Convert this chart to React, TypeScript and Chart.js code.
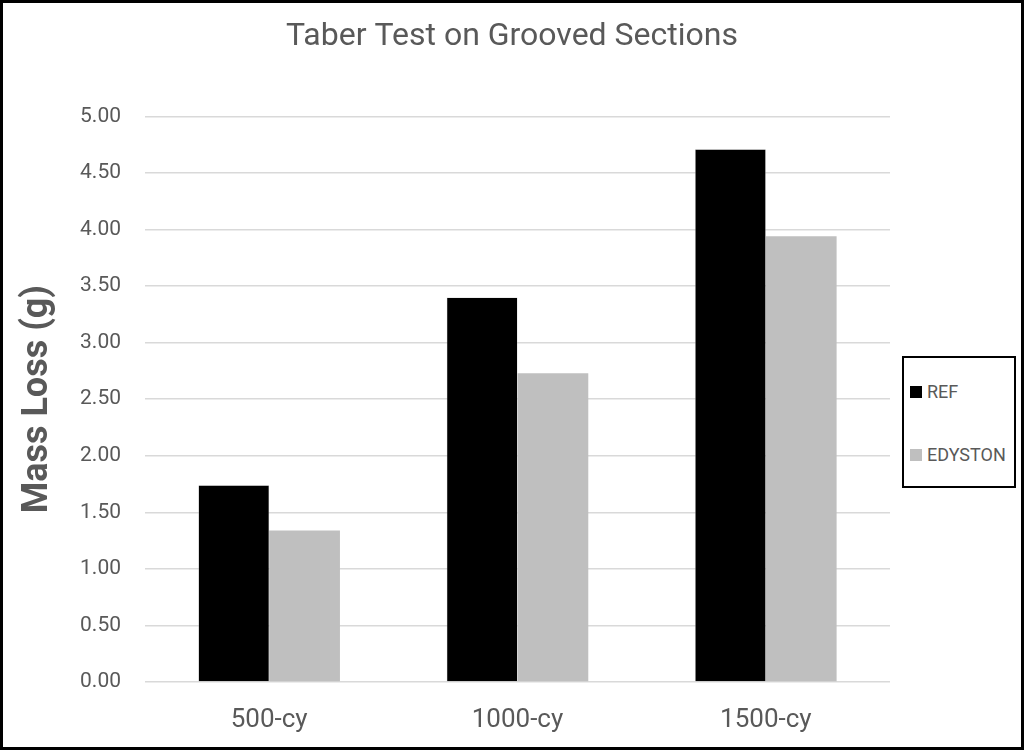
import React, { useEffect, useRef } from "react";
import { Chart, registerables } from "chart.js";

Chart.register(...registerables);

const categories = ["500-cy", "1000-cy", "1500-cy"];
const refValues = [1.74, 3.4, 4.71];
const edystonValues = [1.34, 2.73, 3.94];
const seriesNames = ["REF", "EDYSTON"];
const seriesColors = ["#000000", "#bfbfbf"];
const chartTitle = "Taber Test on Grooved Sections";
const yAxisTitle = "Mass Loss (g)";

const FONT = "Roboto, 'Liberation Sans', Arial, sans-serif";
const TEXT = "#595959";

export default function App() {
  const canvasRef = useRef<HTMLCanvasElement | null>(null);

  useEffect(() => {
    document.body.style.margin = "0";
    const ctx = canvasRef.current;
    if (!ctx) return;
    const chart = new Chart(ctx, {
      type: "bar",
      data: {
        labels: categories,
        datasets: [
          {
            label: seriesNames[0],
            data: refValues,
            backgroundColor: seriesColors[0],
            borderColor: "#bdbdbd",
            borderWidth: 0.5,
            categoryPercentage: 0.57,
            barPercentage: 1.0,
          },
          {
            label: seriesNames[1],
            data: edystonValues,
            backgroundColor: seriesColors[1],
            borderWidth: 0,
            categoryPercentage: 0.57,
            barPercentage: 1.0,
          },
        ],
      },
      options: {
        animation: false,
        responsive: false,
        maintainAspectRatio: false,
        layout: { padding: 0 },
        plugins: {
          legend: { display: false },
          tooltip: { enabled: false },
          title: {
            display: true,
            text: chartTitle,
            color: TEXT,
            font: { family: FONT, size: 32, weight: "normal" },
            padding: { top: 18, bottom: 60 },
          },
        },
        scales: {
          x: {
            grid: { display: false, drawTicks: false },
            border: { display: false },
            ticks: {
              color: TEXT,
              font: { family: FONT, size: 26 },
              padding: 23,
            },
            afterFit: (s: any) => {
              s.height = 68;
            },
          },
          y: {
            min: 0,
            max: 5,
            ticks: {
              stepSize: 0.5,
              color: TEXT,
              font: { family: FONT, size: 21 },
              padding: 24,
              callback: (v: any) => Number(v).toFixed(2),
            },
            grid: { color: "#d9d9d9", lineWidth: 1.5, drawTicks: false },
            border: { display: false },
            title: {
              display: true,
              text: yAxisTitle,
              color: TEXT,
              font: { family: FONT, size: 36, weight: "bold" },
              padding: { top: 16, bottom: 0 },
            },
            afterFit: (s: any) => {
              s.width = 145;
            },
          },
          y2: {
            position: "right",
            display: true,
            min: 0,
            max: 5,
            ticks: { display: false },
            grid: { display: false, drawTicks: false },
            border: { display: false },
            afterFit: (s: any) => {
              s.width = 134;
            },
          },
        },
      },
    });
    return () => chart.destroy();
  }, []);

  const legendItem = (name: string, color: string, top: number) => (
    <div
      style={{
        position: "absolute",
        left: 6,
        top,
        height: 21,
        display: "flex",
        alignItems: "center",
        fontFamily: FONT,
        fontSize: 18,
        lineHeight: "21px",
        color: TEXT,
      }}
    >
      <span
        style={{
          display: "inline-block",
          width: 12,
          height: 12,
          background: color,
          marginRight: 5,
        }}
      />
      {name}
    </div>
  );

  return (
    <div style={{ position: "relative", width: 1024, height: 750, background: "#fff" }}>
      <canvas ref={canvasRef} width={1024} height={750} style={{ position: "absolute", left: 0, top: 0 }} />
      <div
        style={{
          position: "absolute",
          left: 902,
          top: 356,
          width: 114,
          height: 132,
          border: "2px solid #000",
          boxSizing: "border-box",
          background: "#fff",
        }}
      >
        {legendItem(seriesNames[0], seriesColors[0], 23)}
        {legendItem(seriesNames[1], seriesColors[1], 86)}
      </div>
      <div
        style={{
          position: "absolute",
          left: 0,
          top: 0,
          width: 1024,
          height: 750,
          border: "3px solid #000",
          boxSizing: "border-box",
          pointerEvents: "none",
        }}
      />
    </div>
  );
}
